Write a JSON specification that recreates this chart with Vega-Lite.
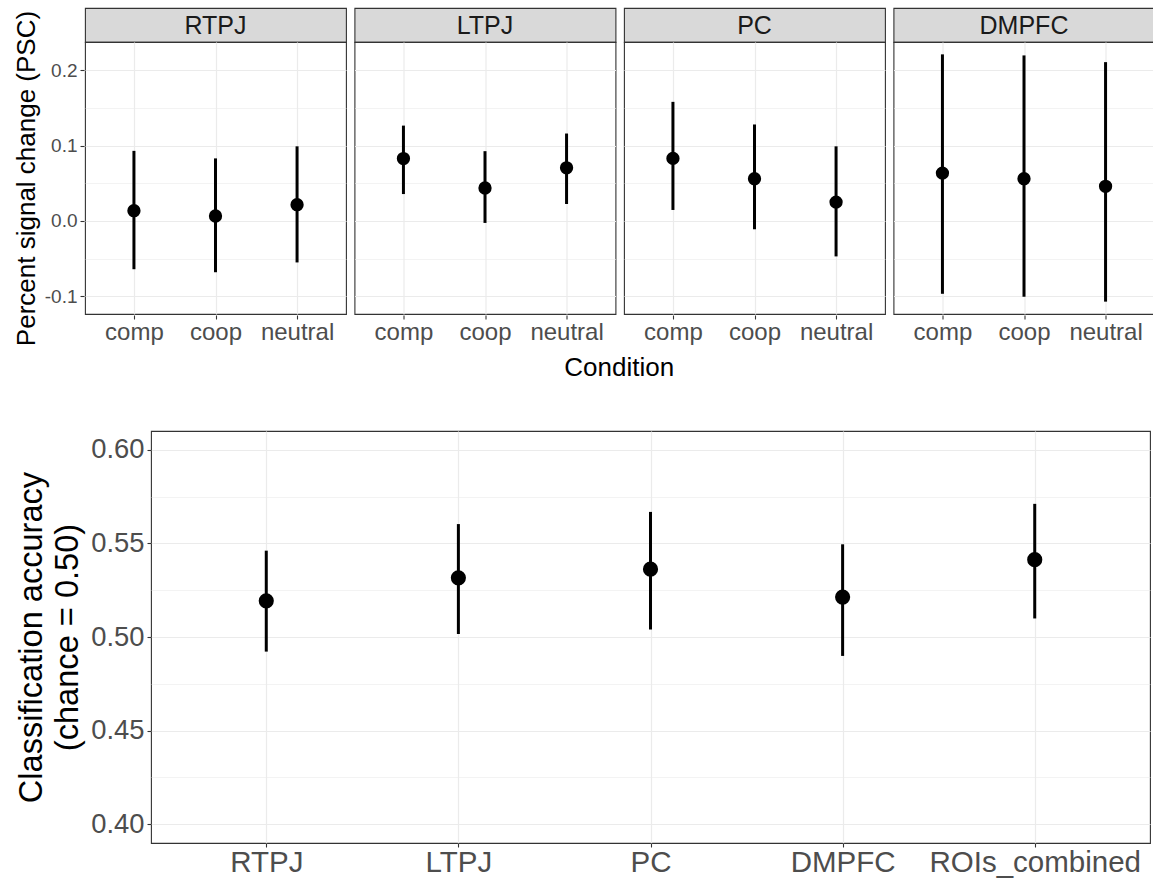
{
  "$schema": "https://vega.github.io/schema/vega-lite/v6.json",
  "padding": {"left": 13, "top": 7, "right": 2, "bottom": 2},
  "background": "white",
  "config": {
    "font": "Liberation Sans",
    "view": {"stroke": "#333333", "strokeWidth": 1.1},
    "axis": {
      "domain": false,
      "gridColor": "#EBEBEB",
      "tickColor": "#333333",
      "labelColor": "#4D4D4D",
      "titleColor": "#000000",
      "titleFontWeight": "normal",
      "tickSize": 4,
      "tickWidth": 1.1
    }
  },
  "datasets": {
    "psc": [
      {"roi": "RTPJ", "condition": "comp", "psc": 0.0136, "lo": -0.064, "hi": 0.093},
      {"roi": "RTPJ", "condition": "coop", "psc": 0.0066, "lo": -0.068, "hi": 0.083},
      {"roi": "RTPJ", "condition": "neutral", "psc": 0.0216, "lo": -0.055, "hi": 0.099},
      {"roi": "LTPJ", "condition": "comp", "psc": 0.0828, "lo": 0.0357, "hi": 0.1265},
      {"roi": "LTPJ", "condition": "coop", "psc": 0.0437, "lo": -0.0026, "hi": 0.0926},
      {"roi": "LTPJ", "condition": "neutral", "psc": 0.0705, "lo": 0.0225, "hi": 0.116},
      {"roi": "PC", "condition": "comp", "psc": 0.083, "lo": 0.0146, "hi": 0.158},
      {"roi": "PC", "condition": "coop", "psc": 0.056, "lo": -0.011, "hi": 0.128},
      {"roi": "PC", "condition": "neutral", "psc": 0.025, "lo": -0.047, "hi": 0.099},
      {"roi": "DMPFC", "condition": "comp", "psc": 0.0635, "lo": -0.0966, "hi": 0.221},
      {"roi": "DMPFC", "condition": "coop", "psc": 0.056, "lo": -0.1005, "hi": 0.2196},
      {"roi": "DMPFC", "condition": "neutral", "psc": 0.046, "lo": -0.107, "hi": 0.2107}
    ],
    "strips": [
      {"roi": "RTPJ"}, {"roi": "LTPJ"}, {"roi": "PC"}, {"roi": "DMPFC"}
    ],
    "spacer": [{"s": 1}],
    "acc": [
      {"roi": "RTPJ", "acc": 0.5193, "lo": 0.4922, "hi": 0.5461},
      {"roi": "LTPJ", "acc": 0.5316, "lo": 0.5016, "hi": 0.5603},
      {"roi": "PC", "acc": 0.5362, "lo": 0.504, "hi": 0.5668},
      {"roi": "DMPFC", "acc": 0.5213, "lo": 0.4899, "hi": 0.5495},
      {"roi": "ROIs_combined", "acc": 0.5413, "lo": 0.5099, "hi": 0.5711}
    ]
  },
  "spacing": 49,
  "vconcat": [
    {
      "spacing": 34,
      "bounds": "flush",
      "title": {"text": "Condition", "orient": "bottom", "anchor": "middle", "frame": "bounds", "dx": 35, "fontSize": 26, "fontWeight": "normal", "color": "#000000", "offset": 9},
      "vconcat": [
        {
          "data": {"name": "strips"},
          "facet": {"column": {"field": "roi", "type": "nominal", "sort": ["RTPJ", "LTPJ", "PC", "DMPFC"], "header": null}},
          "spacing": 6.5,
          "spec": {
            "width": 261,
            "height": 34,
            "view": {"fill": "#D9D9D9", "stroke": "#333333", "strokeWidth": 1.1},
            "mark": {"type": "text", "fontSize": 25, "color": "#1A1A1A", "baseline": "middle", "dy": 1},
            "encoding": {"text": {"field": "roi", "type": "nominal"}}
          }
        },
        {
          "data": {"name": "psc"},
          "facet": {"column": {"field": "roi", "type": "nominal", "sort": ["RTPJ", "LTPJ", "PC", "DMPFC"], "header": null}},
          "spacing": 6.5,
          "spec": {
            "width": 261,
            "height": 272,
            "encoding": {
              "x": {
                "field": "condition", "type": "nominal",
                "scale": {"type": "point", "padding": 0.6},
                "axis": {
                  "title": null,
                  "labelFontSize": 24, "labelAngle": 0, "labelPadding": 1,
                  "grid": true, "gridWidth": 1.2
                }
              },
              "y": {
                "field": "psc", "type": "quantitative",
                "scale": {"domain": [-0.1234, 0.2374], "nice": false, "zero": false},
                "axis": {
                  "title": "Percent signal change (PSC)", "titleFontSize": 26, "titlePadding": 5,
                  "labelFontSize": 19, "labelPadding": 3,
                  "values": [-0.1, -0.05, 0, 0.05, 0.1, 0.15, 0.2],
                  "labelExpr": "abs(datum.value*10 - round(datum.value*10)) < 0.001 ? replace(format(datum.value, '.1f'), '\u2212', '-') : ''",
                  "gridWidth": {"condition": {"test": "abs(datum.value*10 - round(datum.value*10)) < 0.001", "value": 1.2}, "value": 0.6},
                  "tickOpacity": {"condition": {"test": "abs(datum.value*10 - round(datum.value*10)) < 0.001", "value": 1}, "value": 0}
                }
              }
            },
            "layer": [
              {
                "mark": {"type": "rule", "strokeWidth": 3, "color": "#000000"},
                "encoding": {"y": {"field": "lo", "type": "quantitative"}, "y2": {"field": "hi"}}
              },
              {
                "mark": {"type": "point", "filled": true, "size": 177, "color": "#000000", "opacity": 1}
              }
            ]
          }
        }
      ]
    },
    {
      "bounds": "flush",
      "spacing": 0,
      "hconcat": [
        {
          "data": {"name": "spacer"},
          "width": 66,
          "height": 412,
          "view": {"stroke": null, "fill": null},
          "mark": {"type": "point", "opacity": 0},
          "encoding": {}
        },
        {
          "data": {"name": "acc"},
          "width": 999,
          "height": 412,
          "encoding": {
            "x": {
              "field": "roi", "type": "nominal", "sort": ["RTPJ", "LTPJ", "PC", "DMPFC", "ROIs_combined"],
              "scale": {"type": "point", "padding": 0.6},
              "axis": {"title": null, "labelFontSize": 29.5, "labelAngle": 0, "labelPadding": 1, "labelLimit": 400, "grid": true, "gridWidth": 1.2}
            },
            "y": {
              "field": "acc", "type": "quantitative",
              "scale": {"domain": [0.39, 0.61], "nice": false, "zero": false},
              "axis": {
                "title": ["Classification accuracy", "(chance = 0.50)"],
                "titleFontSize": 32.6, "titleLineHeight": 36, "titlePadding": 6,
                "labelFontSize": 27.4, "labelPadding": 3,
                "values": [0.4, 0.425, 0.45, 0.475, 0.5, 0.525, 0.55, 0.575, 0.6],
                "labelExpr": "abs(datum.value*20 - round(datum.value*20)) < 0.001 ? format(datum.value, '.2f') : ''",
                "gridWidth": {"condition": {"test": "abs(datum.value*20 - round(datum.value*20)) < 0.001", "value": 1.2}, "value": 0.6},
                "tickOpacity": {"condition": {"test": "abs(datum.value*20 - round(datum.value*20)) < 0.001", "value": 1}, "value": 0}
              }
            }
          },
          "layer": [
            {
              "mark": {"type": "rule", "strokeWidth": 3, "color": "#000000"},
              "encoding": {"y": {"field": "lo", "type": "quantitative"}, "y2": {"field": "hi"}}
            },
            {
              "mark": {"type": "point", "filled": true, "size": 230, "color": "#000000", "opacity": 1}
            }
          ]
        }
      ]
    }
  ]
}
